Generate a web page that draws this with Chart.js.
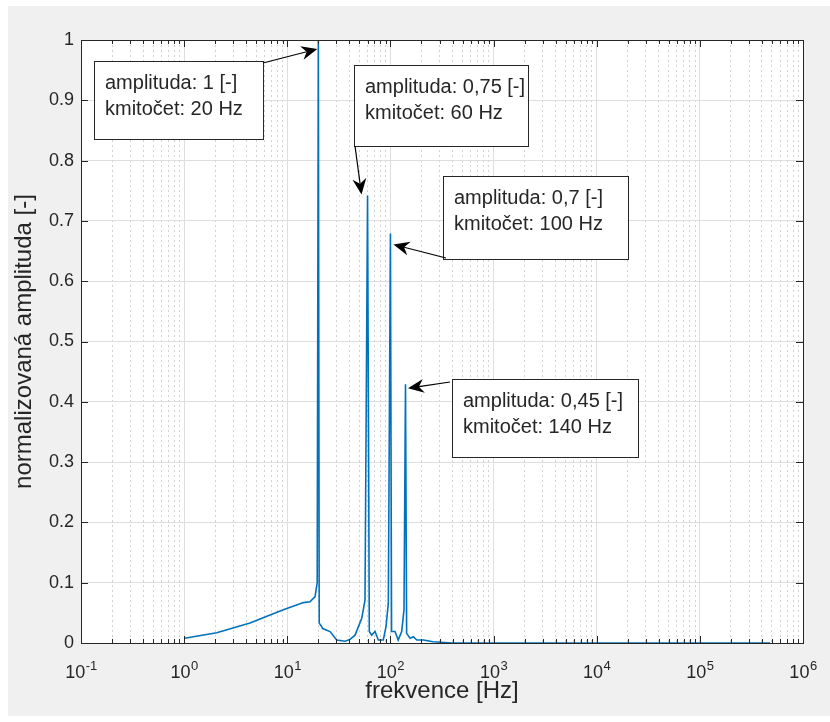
<!DOCTYPE html>
<html>
<head>
<meta charset="utf-8">
<script src="https://cdn.jsdelivr.net/npm/chart.js@4.4.0/dist/chart.umd.min.js"></script>
<style>
  html, body { margin: 0; padding: 0; background: #fff; }
  canvas { display: block; }
</style>
</head>
<body>
<canvas id="spectrumChart" width="830" height="722"></canvas>
<script>
// spectrum: frequency [Hz] / normalised amplitude [-]
const frequencies = [1.01, 2.07, 4.35, 9.15, 12.3, 14.3, 16.6, 18.6, 19.5, 20, 20.4, 21.6, 22, 26, 30.1, 36.3, 40.6, 45.4, 52.7, 56.7,
  60, 62.4, 65.8, 70.9, 76.3, 85.3, 90.6, 95.4, 100, 102.6, 110.7, 119, 128.5, 135.4,
  140, 143.6, 155, 166.8, 180, 210, 258, 400, 1000, 10000, 100000, 480000];
const amplitudes = [0.0078, 0.017, 0.033, 0.055, 0.063, 0.067, 0.0685, 0.077, 0.1, 1, 0.033, 0.027, 0.024, 0.019, 0.005, 0.003, 0.006, 0.013, 0.041, 0.071,
  0.742, 0.019, 0.013, 0.019, 0.005, 0.005, 0.027, 0.066, 0.679, 0.019, 0.019, 0.005, 0.019, 0.055,
  0.429, 0.016, 0.008, 0.0105, 0.005, 0.005, 0.002, 0, 0, 0, 0, 0];

const xDecades = [-1, 0, 1, 2, 3, 4, 5, 6];
const xTickBase = '10';
const xTickExponents = ['-1', '0', '1', '2', '3', '4', '5', '6'];
const yTicks = [0, 0.1, 0.2, 0.3, 0.4, 0.5, 0.6, 0.7, 0.8, 0.9, 1];
const yTickLabels = ['0', '0.1', '0.2', '0.3', '0.4', '0.5', '0.6', '0.7', '0.8', '0.9', '1'];

// data tips
const peakFreqs = [20, 60, 100, 140];
const peakAmps = [1, 0.742, 0.679, 0.429];
const peakTexts = [
  ['amplituda: 1 [-]', 'kmitočet: 20 Hz'],
  ['amplituda: 0,75 [-]', 'kmitočet: 60 Hz'],
  ['amplituda: 0,7 [-]', 'kmitočet: 100 Hz'],
  ['amplituda: 0,45 [-]', 'kmitočet: 140 Hz']
];

// where the text boxes sit (px) and where the arrow leaves the box / lands next to the peak
const noteLayout = [
  { box: [94, 61, 169, 78], from: [263, 63], tipOff: [-1, 9] },
  { box: [354, 65, 174, 81], from: [355, 146], tipOff: [-6, -1] },
  { box: [443, 176, 185, 83], from: [446, 258], tipOff: [3, 11] },
  { box: [452, 379, 186, 78], from: [450, 382], tipOff: [2.5, 4] }
];

const FONT = "'Liberation Sans', Arial, Helvetica, sans-serif";
const INK = '#262626';

const isDecade = v => Math.abs(Math.log10(v) - Math.round(Math.log10(v))) < 1e-9;

const xTickValues = [];
xDecades.forEach(d => {
  for (let k = 1; k <= 9; k++) {
    if (d === 6 && k > 1) break;
    xTickValues.push(k * Math.pow(10, d));
  }
});

const backdrop = {
  id: 'backdrop',
  beforeDraw(chart) {
    const { ctx, chartArea: a } = chart;
    ctx.save();
    ctx.fillStyle = '#ffffff';
    ctx.fillRect(0, 0, chart.width, chart.height);
    ctx.fillStyle = '#f0f0f0';
    ctx.fillRect(8, 6, chart.width - 8, 710);
    ctx.fillStyle = '#ffffff';
    ctx.fillRect(a.left, a.top, a.right - a.left, a.bottom - a.top);
    ctx.restore();
  }
};

function drawArrow(ctx, x0, y0, x1, y1) {
  const ang = Math.atan2(y1 - y0, x1 - x0);
  const L = 16, W = 7, notch = 5;
  ctx.beginPath();
  ctx.moveTo(x0, y0);
  ctx.lineTo(x1 - Math.cos(ang) * (L - notch), y1 - Math.sin(ang) * (L - notch));
  ctx.stroke();
  ctx.save();
  ctx.translate(x1, y1);
  ctx.rotate(ang);
  ctx.beginPath();
  ctx.moveTo(0, 0);
  ctx.lineTo(-L, -W);
  ctx.lineTo(-L + notch, 0);
  ctx.lineTo(-L, W);
  ctx.closePath();
  ctx.fill();
  ctx.restore();
}

const frameAndNotes = {
  id: 'frameAndNotes',
  afterDraw(chart) {
    const { ctx, chartArea: a, scales: { x, y } } = chart;
    ctx.save();
    // axes box with inward ticks, matlab style
    ctx.strokeStyle = INK;
    ctx.lineWidth = 1;
    ctx.beginPath();
    x.ticks.forEach(t => {
      const px = Math.round(x.getPixelForValue(t.value)) + 0.5;
      const len = isDecade(t.value) ? 7 : 4;
      ctx.moveTo(px, a.bottom); ctx.lineTo(px, a.bottom - len);
      ctx.moveTo(px, a.top); ctx.lineTo(px, a.top + len);
    });
    y.ticks.forEach(t => {
      const py = Math.round(y.getPixelForValue(t.value)) + 0.5;
      ctx.moveTo(a.left, py); ctx.lineTo(a.left + 7, py);
      ctx.moveTo(a.right, py); ctx.lineTo(a.right - 7, py);
    });
    ctx.stroke();
    ctx.strokeRect(Math.round(a.left) + 0.5, Math.round(a.top) + 0.5,
      Math.round(a.right - a.left), Math.round(a.bottom - a.top));

    // decade labels 10^n with a raised exponent
    ctx.fillStyle = INK;
    ctx.textBaseline = 'alphabetic';
    ctx.textAlign = 'left';
    xDecades.forEach((d, i) => {
      const px = x.getPixelForValue(Math.pow(10, d));
      ctx.font = '18px ' + FONT;
      const wb = ctx.measureText(xTickBase).width;
      ctx.font = '13px ' + FONT;
      const we = ctx.measureText(xTickExponents[i]).width;
      const x0 = px - (wb + we) / 2;
      ctx.font = '18px ' + FONT;
      ctx.fillText(xTickBase, x0, a.bottom + 35);
      ctx.font = '13px ' + FONT;
      ctx.fillText(xTickExponents[i], x0 + wb + 0.5, a.bottom + 27);
    });

    // data tip boxes
    ctx.font = '20px ' + FONT;
    peakFreqs.forEach((f, i) => {
      const n = noteLayout[i];
      const [bx, by, bw, bh] = n.box;
      ctx.fillStyle = '#ffffff';
      ctx.fillRect(bx, by, bw, bh);
      ctx.strokeStyle = INK;
      ctx.strokeRect(bx + 0.5, by + 0.5, bw, bh);
      ctx.fillStyle = INK;
      ctx.fillText(peakTexts[i][0], bx + 11, by + 28);
      ctx.fillText(peakTexts[i][1], bx + 11, by + 54);
      const tx = x.getPixelForValue(f) + n.tipOff[0];
      const ty = y.getPixelForValue(peakAmps[i]) + n.tipOff[1];
      ctx.strokeStyle = '#000';
      ctx.fillStyle = '#000';
      ctx.lineWidth = 1.2;
      drawArrow(ctx, n.from[0], n.from[1], tx, ty);
      ctx.lineWidth = 1;
    });
    ctx.restore();
  }
};

const chartEl = document.getElementById('spectrumChart');
new Chart(chartEl, {
  type: 'line',
  data: {
    datasets: [{
      data: frequencies.map((f, i) => ({ x: f, y: amplitudes[i] })),
      borderColor: '#0072BD',
      borderWidth: 1.6,
      pointRadius: 0,
      tension: 0,
      fill: false,
      clip: 4
    }]
  },
  options: {
    responsive: false,
    animation: false,
    devicePixelRatio: 1,
    layout: { padding: { top: 40, right: 27, bottom: 0, left: 0 } },
    plugins: { legend: { display: false }, tooltip: { enabled: false } },
    scales: {
      x: {
        type: 'logarithmic',
        min: 0.1,
        max: 1e6,
        afterBuildTicks: s => { s.ticks = xTickValues.map(v => ({ value: v })); },
        afterFit: s => { s.height = 79; },
        ticks: { display: false, autoSkip: false, maxRotation: 0 },
        grid: {
          drawTicks: false,
          color: c => (c.tick && !isDecade(c.tick.value)) ? '#d2d2d2' : '#dedede'
        },
        border: {
          display: false,
          dash: c => (c.tick && !isDecade(c.tick.value)) ? [2, 3] : []
        },
        title: {
          display: true,
          text: 'frekvence [Hz]',
          color: INK,
          font: { family: FONT, size: 24 },
          padding: { top: 0, bottom: 16 }
        }
      },
      y: {
        min: 0,
        max: 1,
        afterBuildTicks: s => { s.ticks = yTicks.map(v => ({ value: v })); },
        afterFit: s => { s.width = 81; },
        ticks: {
          padding: 7,
          color: INK,
          font: { family: FONT, size: 18 },
          callback: (v, i) => yTickLabels[i]
        },
        grid: { drawTicks: false, color: '#dedede' },
        border: { display: false },
        title: {
          display: true,
          text: 'normalizovaná amplituda [-]',
          color: INK,
          font: { family: FONT, size: 24 },
          padding: { top: 10, bottom: 0 }
        }
      }
    }
  },
  plugins: [backdrop, frameAndNotes]
});
</script>
</body>
</html>
